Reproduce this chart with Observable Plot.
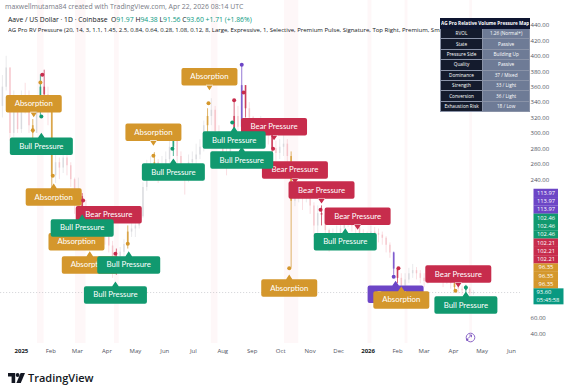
<!DOCTYPE html>
<html><head><meta charset="utf-8">
<script src="https://cdn.jsdelivr.net/npm/d3@7"></script>
<script src="https://cdn.jsdelivr.net/npm/@observablehq/plot@0.6"></script>
<style>
body{margin:0;background:#fff;font-family:Lato,"Open Sans",sans-serif;}
#wrap{position:relative;width:571px;height:388px;overflow:hidden;background:#fff;}
#chart{position:absolute;left:0;top:0;}
.hd{position:absolute;white-space:nowrap;font-family:"Open Sans",sans-serif;}
.h1{left:5px;top:2px;font-size:6.9px;color:#787b86;}
.h2{left:8px;top:15px;font-size:6.8px;color:#131722;}
.h2 .g{color:#089981;}
.h3{left:8px;top:25.5px;font-size:6px;color:#131722;width:432px;overflow:hidden;}
#tbl{position:absolute;left:440px;top:18px;width:88px;border-collapse:collapse;font-family:"Open Sans",sans-serif;font-size:4.7px;color:#fff;}
#tbl td{padding:0;text-align:center;border:0.5px solid #8a93a8;height:9.4px;line-height:9px;white-space:nowrap;overflow:hidden;}
#tbl td.k{background:#141b2d;width:41px;}
#tbl td.v{background:#6e7b96;}
#tbl td.t{background:#0e1530;font-weight:bold;height:8.5px;border-color:#0e1530;}
#logo{position:absolute;left:8px;top:370px;display:flex;align-items:center;gap:3px;font-family:"Open Sans",sans-serif;font-weight:600;font-size:11px;color:#131722;}
#rt{position:absolute;left:465px;top:332px;}
</style></head>
<body>
<div id="wrap">
<div id="chart"></div>
<div class="hd h1">maxwellmutama84 created with TradingView.com, Apr 22, 2026 08:14 UTC</div>
<div class="hd h2" id="ohlc"></div>
<div class="hd h3">AG Pro RV Pressure (20, 14, 3, 1.1, 1.45, 2.5, 0.84, 0.64, 0.28, 1.08, 0.12, 8, Large, Expressive, 1, Selective, Premium Pulse, Signature, Top Right, Premium, Small, Show)</div>
<table id="tbl"></table>
<svg id="rt" width="11" height="11" viewBox="0 0 11 11"><circle cx="5.5" cy="5.5" r="4.3" fill="none" stroke="#7e57c2" stroke-width="0.9"/><path d="M3 6.5 L6.5 3 M6.5 3 L6.5 5.2 M6.5 3 L4.3 3" stroke="#7e57c2" stroke-width="0.9" fill="none"/><circle cx="2.2" cy="7.8" r="1.2" fill="#7e57c2"/></svg>
<div id="logo"><svg width="17" height="10" viewBox="0 0 17 10"><path d="M0 0h7.2v10h-3.6v-6.4h-3.6z" fill="#131722"/><circle cx="9.6" cy="2" r="1.9" fill="#131722"/><path d="M12.6 0h4.4l-4.2 10h-4.4z" fill="#131722"/></svg><span>TradingView</span></div>
</div>
<script>
// ---------------- data ----------------
const symbolName = "Aave / US Dollar · 1D · Coinbase";
const ohlcLetters = ["O", "H", "L", "C"];
const ohlcValues = ["91.97", "94.38", "91.56", "93.60"];
const changeText = "+1.71 (+1.86%)";

// 4-day candles starting 2024-12-10
const candleStart = "2024-12-10";
const candleStepDays = 4;
const firstOpen = 335;
const closes = [360,385,300,340,305,345,340,310,300,330,360,350,330,245,262,255,268,258,240,212,218,200,180,176,182,186,184,166,154,128,140,146,156,172,176,180,192,230,248,256,262,250,256,266,282,296,270,256,240,262,266,272,282,310,322,330,302,290,270,262,292,322,308,362,332,320,305,300,310,304,298,280,274,282,286,270,212,222,226,216,222,206,180,196,194,174,160,166,170,176,186,190,180,178,170,168,165,172,170,168,164,155,145,124,112,102,110,118,122,118,112,108,112,118,120,115,108,112,105,100,98,96,98,92,93.6];
const highs  = [375,400,385,355,345,355,365,355,318,342,376,382,360,335,278,268,278,272,262,242,242,222,213,190,192,200,196,186,176,160,150,152,162,180,186,186,200,236,265,270,275,266,270,276,292,310,300,276,260,272,276,286,292,316,332,345,335,310,296,282,302,343,335,389,362,340,322,316,322,316,310,300,290,292,300,292,276,236,236,230,236,226,210,206,206,196,176,176,180,186,196,200,192,186,178,175,172,180,178,176,172,166,158,146,125,118,118,125,130,126,122,118,120,126,128,124,118,120,115,108,103,102,103,100,96];
const lows   = [320,355,290,295,300,300,325,300,282,300,322,335,310,228,235,240,248,245,230,195,200,185,165,160,170,175,170,155,145,112,116,135,140,150,165,165,176,190,225,240,245,235,240,245,260,270,258,245,220,236,250,256,266,276,300,310,290,280,260,245,255,296,290,284,320,308,294,290,296,290,285,270,260,266,270,258,125,205,210,200,210,195,165,170,180,160,146,155,160,160,176,178,172,168,162,160,158,162,160,158,155,145,138,116,105,95,98,105,112,110,105,100,104,108,112,108,100,104,98,94,92,90,93,89,90];

// indicator labels
const labelText  = ["Absorption","Bull Pressure","Absorption","Bear Pressure","Bull Pressure","Absorption","Absorption","Bull Pressure","Bull Pressure","Absorption","Bull Pressure","Absorption","Bull Pressure","Bull Pressure","Bear Pressure","Bear Pressure","Bear Pressure","Bear Pressure","Bull Pressure","Absorption","Conversion","Absorption","Bear Pressure","Bull Pressure"];
const labelDate  = ["2025-01-14","2025-01-22","2025-02-04","2025-04-03","2025-03-06","2025-02-28","2025-03-14","2025-04-24","2025-04-10","2025-05-20","2025-06-10","2025-07-18","2025-08-13","2025-08-21","2025-09-24","2025-10-16","2025-11-13","2025-12-21","2025-12-08","2025-10-10","2026-01-30","2026-02-05","2026-04-06","2026-04-14"];
const labelPrice = [321,301,235,177,195,177,147,147,108,284,267.5,356,309,283,291,235,209,175,177,117,109,101.5,100,95];
const labelDir   = ["down","up","up","down","up","up","up","up","up","down","up","down","up","up","down","down","down","down","up","up","up","up","down","up"];

// signal dots
const markerDate  = ["2025-01-13","2025-01-21","2025-01-22","2025-01-23","2025-02-03","2025-03-07","2025-04-10","2025-04-23","2025-05-20","2025-06-09","2025-07-17","2025-08-11","2025-08-13","2025-08-21","2025-08-23","2025-09-23","2025-10-10","2025-11-12","2026-01-28","2026-02-02","2026-04-03","2026-04-14"];
const markerPrice = [304,366,322,376,245,213,144,157,271,280,339,314,343,389,353,280,125,201,114,125,96,100];
const markerKind  = ["abs","abs","bull","bear","abs","bear","bear","abs","abs","bull","abs","bull","bear","climax","bear","bear","abs","bear","climax","bear","abs","bull"];

// highlighted background bars
const stripeStart = ["2025-01-18","2025-02-27","2025-04-09","2025-07-20","2025-10-05","2026-01-01","2026-02-09","2026-04-18"];
const stripeEnd   = ["2025-01-25","2025-03-10","2025-04-14","2025-07-27","2025-10-20","2026-01-05","2026-02-12","2026-04-21"];

// price-scale tags
const tagValues = [113.97,113.97,113.97,102.46,102.46,102.46,102.21,102.21,102.21,96.35,96.35,96.35];
const tagKind   = ["climax","climax","climax","bull","bull","bull","bear","bear","bear","abs","abs","abs"];
const currentPrice = 93.60;
const countdown = "05:45:58";

// axis ticks (the ones not hidden behind the price tags)
const yTicks = [440,420,400,380,360,340,320,300,280,260,240,60,40];
const monthTicks = ["2025-02-01","2025-03-01","2025-04-01","2025-05-01","2025-06-01","2025-07-01","2025-08-01","2025-09-01","2025-10-01","2025-11-01","2025-12-01","2026-02-01","2026-03-01","2026-04-01","2026-05-01","2026-06-01"];
const yearTicks = ["2025-01-01","2026-01-01"];

// table
const tableTitle = "AG Pro Relative Volume Pressure Map";
const tableKeys = ["RVOL","State","Pressure Side","Quality","Dominance","Strength","Conversion","Exhaustion Risk"];
const tableVals = ["1.26 (Normal+)","Passive","Building Up","Passive","37 / Mixed","33 / Light","36 / Light","18 / Low"];

// ---------------- styles ----------------
const colors = {abs:"#d4972c", bull:"#11996f", bear:"#c72c4c", climax:"#6c45c6"};
const kindOf = {"Absorption":"abs","Bull Pressure":"bull","Bear Pressure":"bear","Conversion":"climax"};
const boxW = {abs:56, bull:63, bear:66, climax:56};
const boxH = 17.5, ptr = 4.8;

// header
document.getElementById("ohlc").innerHTML = symbolName + "&nbsp; " +
  ohlcLetters.map((l,i)=>`${l}<span class="g">${ohlcValues[i]}</span>`).join(" ") +
  ` <span class="g">${changeText}</span>`;
// table
const tbl = document.getElementById("tbl");
tbl.innerHTML = `<tr><td class="t" colspan="2">${tableTitle}</td></tr>` +
  tableKeys.map((k,i)=>`<tr><td class="k">${k}</td><td class="v">${tableVals[i]}</td></tr>`).join("");

// ---------------- derived ----------------
const parse = d3.utcParse("%Y-%m-%d");
const t0 = parse(candleStart);
const DAY = 864e5;
const candles = closes.map((c,i)=>({
  mid: new Date(t0.getTime() + (i*candleStepDays + candleStepDays/2)*DAY),
  open: i===0 ? firstOpen : closes[i-1], close: c, high: highs[i], low: lows[i], tone: null
}));
const markers = markerDate.map((d,i)=>({date: parse(d), price: markerPrice[i], kind: markerKind[i]}));
markers.forEach(m=>{
  const idx = Math.floor((m.date - t0)/(candleStepDays*DAY));
  if (candles[idx]) candles[idx].tone = m.kind;
});
const plain = candles.filter(c=>!c.tone);
const toned = candles.filter(c=>c.tone);
const labels = labelText.map((t,i)=>({text:t, kind:kindOf[t], date:parse(labelDate[i]), price:labelPrice[i], dir:labelDir[i]}));
const stripes = stripeStart.map((s,i)=>({x1:parse(s), x2:parse(stripeEnd[i])}));

const H = 362, mB = 19, mR = 51;
const yDomain = [27.5, 472.4];
const pxPerUnit = (H - mB) / (yDomain[1] - yDomain[0]);
const rowPx = 8.3;
const tags = tagValues.map((v,i)=>({v, kind:tagKind[i], pos: currentPrice + (tagValues.length - i)*rowPx/pxPerUnit}));

function labelShape(w, h, dir){
  return {draw(ctx){
    const r = 2, x0 = -w/2, x1 = w/2;
    const y0 = dir === "down" ? -ptr - h : ptr;
    const y1 = y0 + h;
    ctx.moveTo(x0 + r, y0);
    ctx.lineTo(x1 - r, y0); ctx.arcTo(x1, y0, x1, y0 + r, r);
    ctx.lineTo(x1, y1 - r); ctx.arcTo(x1, y1, x1 - r, y1, r);
    ctx.lineTo(x0 + r, y1); ctx.arcTo(x0, y1, x0, y1 - r, r);
    ctx.lineTo(x0, y0 + r); ctx.arcTo(x0, y0, x0 + r, y0, r);
    ctx.closePath();
    const e = dir === "down" ? -ptr - 0.6 : ptr + 0.6;
    ctx.moveTo(-3.6, e); ctx.lineTo(0, 0); ctx.lineTo(3.6, e); ctx.closePath();
  }};
}
function rectShape(xa, xb, ya, yb){
  return {draw(ctx){ ctx.moveTo(xa, ya); ctx.lineTo(xb, ya); ctx.lineTo(xb, yb); ctx.lineTo(xa, yb); ctx.closePath(); }};
}

function labelMarks(kind){
  const out = [];
  for (const dir of ["down","up"]) {
    const data = labels.filter(d=>d.kind===kind && d.dir===dir);
    out.push(Plot.dot(data, {x:"date", y:"price", r:1, symbol:labelShape(boxW[kind], boxH, dir), fill:colors[kind], stroke:null}));
    out.push(Plot.text(data, {x:"date", y:"price", text:"text", dy: dir==="down" ? -(ptr + boxH/2) : (ptr + boxH/2), fill:"#fff", fontSize:7.8, fontFamily:"Lato, 'Open Sans', sans-serif"}));
  }
  return out;
}

const font = "'Open Sans', sans-serif";
const chart = Plot.plot({
  width: 571, height: H,
  marginLeft: 0, marginRight: mR, marginTop: 0, marginBottom: mB,
  style: {background:"transparent", fontFamily: font},
  x: {type:"utc", domain:[parse("2024-12-10"), new Date(Date.UTC(2026,5,10,12))]},
  y: {domain: yDomain},
  marks: [
    Plot.rect(stripes, {x1:"x1", x2:"x2", fill:"#f3a8b4", fillOpacity:0.09}),
    Plot.ruleY([currentPrice], {stroke:"#9598a1", strokeOpacity:0.55, strokeWidth:0.7, strokeDasharray:"1.2,1.8"}),
    // faint candles
    Plot.ruleX(plain, {x:"mid", y1:"low", y2:"high", stroke:d=>d.close>=d.open?"#c3c5cb":"#f0a3ae", strokeWidth:0.6, strokeOpacity:0.6}),
    Plot.ruleX(plain, {x:"mid", y1:"open", y2:"close", stroke:d=>d.close>=d.open?"#c3c5cb":"#f0a3ae", strokeWidth:1.6, strokeOpacity:0.45}),
    // indicator-coloured candles
    Plot.ruleX(toned, {x:"mid", y1:"low", y2:"high", stroke:d=>colors[d.tone], strokeWidth:0.9, strokeOpacity:0.8}),
    Plot.ruleX(toned, {x:"mid", y1:"open", y2:"close", stroke:d=>colors[d.tone], strokeWidth:1.8, strokeOpacity:0.7}),
    // axes
    Plot.axisY({anchor:"right", ticks:yTicks, tickSize:0, tickPadding:10, tickFormat:d=>d.toFixed(2), fontSize:6, color:"#50535e", label:null}),
    Plot.axisX({ticks:monthTicks.map(parse), tickSize:0, tickPadding:5, tickFormat:d3.utcFormat("%b"), fontSize:6, color:"#50535e", label:null}),
    Plot.axisX({ticks:yearTicks.map(parse), tickSize:0, tickPadding:5, tickFormat:d3.utcFormat("%Y"), fontSize:6, fontWeight:"bold", color:"#131722", label:null}),
    // labels
    ...labelMarks("climax"),
    ...labelMarks("abs"),
    ...labelMarks("bear"),
    ...labelMarks("bull"),
    // signal dots
    Plot.dot(markers, {x:"date", y:"price", r:2, fill:d=>colors[d.kind], stroke:null}),
    // price scale tags
    Plot.dot(tags, {frameAnchor:"right", y:"pos", r:1, symbol:rectShape(13, 37.5, -4.2, 4.2), fill:d=>colors[d.kind], stroke:null}),
    Plot.text(tags, {frameAnchor:"right", y:"pos", dx:25.5, textAnchor:"middle", text:d=>d.v.toFixed(2), fill:"#fff", fontSize:5.8}),
    Plot.dot([currentPrice], {frameAnchor:"right", y:d=>d, r:1, symbol:rectShape(13, 43, -4.2, 11.8), fill:"#089981", stroke:null}),
    Plot.text([currentPrice], {frameAnchor:"right", y:d=>d, dx:16, textAnchor:"start", text:d=>d.toFixed(2), fill:"#fff", fontSize:5.8}),
    Plot.text([currentPrice], {frameAnchor:"right", y:d=>d, dx:16, dy:7.4, textAnchor:"start", text:()=>countdown, fill:"#fff", fontSize:5.8})
  ]
});
document.getElementById("chart").appendChild(chart);
</script>
</body></html>
